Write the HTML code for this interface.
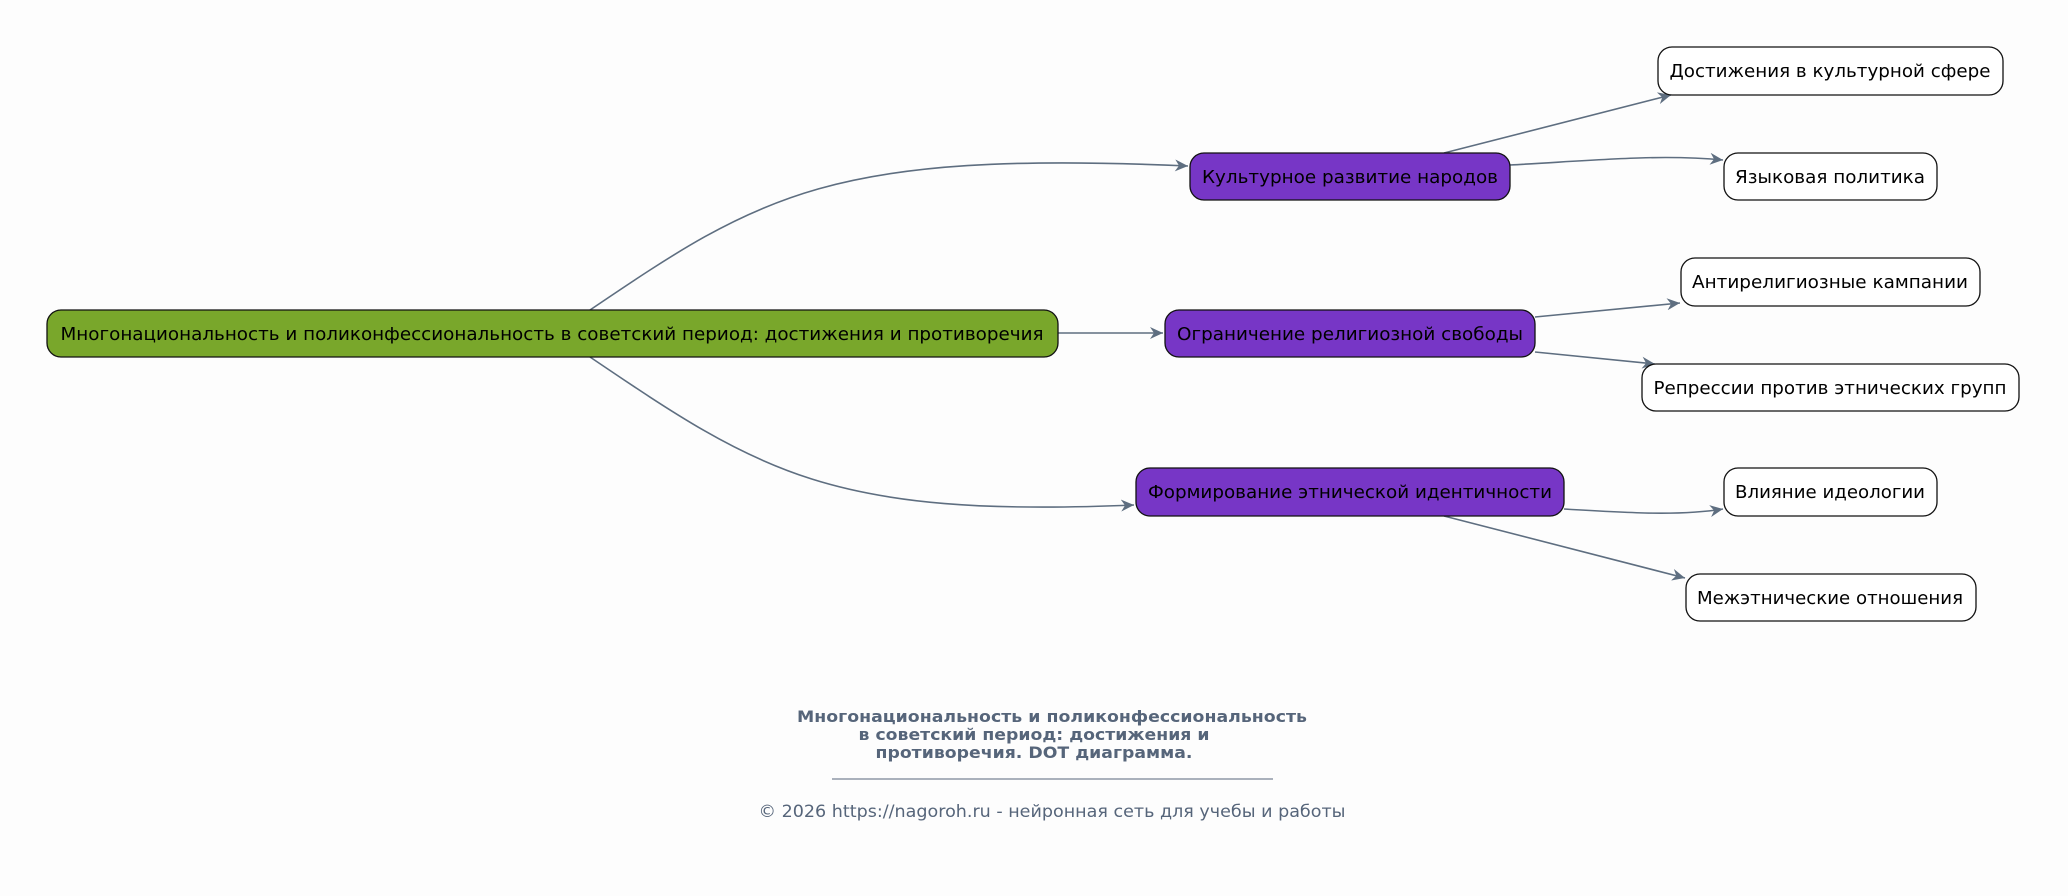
<!DOCTYPE html>
<html><head><meta charset="utf-8"><style>
html,body{margin:0;padding:0;background:#fdfdfd;}
svg{display:block;}
text{font-family:"DejaVu Sans","Liberation Sans",sans-serif;}
</style></head><body>
<svg width="2068" height="896" viewBox="0 0 2068 896" xmlns="http://www.w3.org/2000/svg">
<rect width="2068" height="896" fill="#fdfdfd"/>
<defs>
<marker id="v" viewBox="0 0 14 12" refX="13" refY="6" markerWidth="14" markerHeight="12" markerUnits="userSpaceOnUse" orient="auto">
<path d="M0,0 L13,6 L0,12 L4,6 Z" fill="#5e6e80"/>
</marker>
</defs>
<g fill="none" stroke="#5e6e80" stroke-width="1.6">
<path d="M590,310 C760,195 830,150 1188,166" marker-end="url(#v)"/>
<path d="M1058,333 L1163,333" marker-end="url(#v)"/>
<path d="M590,357 C760,472 830,518 1134,505" marker-end="url(#v)"/>
<path d="M1444,153 L1671,95" marker-end="url(#v)"/>
<path d="M1510,165 C1600,160 1660,154 1723,160" marker-end="url(#v)"/>
<path d="M1535,317 L1680,303" marker-end="url(#v)"/>
<path d="M1535,352 L1655,364" marker-end="url(#v)"/>
<path d="M1564,509 C1630,513 1680,516 1723,509" marker-end="url(#v)"/>
<path d="M1444,516 L1685,578" marker-end="url(#v)"/>
</g>
<g stroke="#111" stroke-width="1.3">
<rect x="47" y="310" width="1011" height="47" rx="14" fill="#79a72b"/>
<rect x="1190" y="153" width="320" height="47" rx="14" fill="#7736c6"/>
<rect x="1165" y="310" width="370" height="47" rx="14" fill="#7736c6"/>
<rect x="1136" y="468" width="428" height="48" rx="14" fill="#7736c6"/>
<rect x="1658" y="47" width="345" height="48" rx="14" fill="#fff"/>
<rect x="1724" y="153" width="213" height="47" rx="14" fill="#fff"/>
<rect x="1681" y="258" width="299" height="48" rx="14" fill="#fff"/>
<rect x="1642" y="364" width="377" height="47" rx="14" fill="#fff"/>
<rect x="1724" y="468" width="213" height="48" rx="14" fill="#fff"/>
<rect x="1686" y="574" width="290" height="47" rx="14" fill="#fff"/>
</g>
<g font-size="18" fill="#000" text-anchor="middle">
<text x="552" y="340" textLength="983" lengthAdjust="spacingAndGlyphs">Многонациональность и поликонфессиональность в советский период: достижения и противоречия</text>
<text x="1350" y="183" textLength="296" lengthAdjust="spacingAndGlyphs">Культурное развитие народов</text>
<text x="1350" y="340" textLength="346" lengthAdjust="spacingAndGlyphs">Ограничение религиозной свободы</text>
<text x="1350" y="498" textLength="404" lengthAdjust="spacingAndGlyphs">Формирование этнической идентичности</text>
<text x="1830" y="77" textLength="321" lengthAdjust="spacingAndGlyphs">Достижения в культурной сфере</text>
<text x="1830" y="183" textLength="190" lengthAdjust="spacingAndGlyphs">Языковая политика</text>
<text x="1830" y="288" textLength="276" lengthAdjust="spacingAndGlyphs">Антирелигиозные кампании</text>
<text x="1830" y="394" textLength="353" lengthAdjust="spacingAndGlyphs">Репрессии против этнических групп</text>
<text x="1830" y="498" textLength="190" lengthAdjust="spacingAndGlyphs">Влияние идеологии</text>
<text x="1830" y="604" textLength="266" lengthAdjust="spacingAndGlyphs">Межэтнические отношения</text>
</g>
<g fill="#56657a" text-anchor="middle">
<text x="1052" y="722" font-size="16" font-weight="bold" textLength="510" lengthAdjust="spacingAndGlyphs">Многонациональность и поликонфессиональность</text>
<text x="1034" y="740" font-size="16" font-weight="bold" textLength="351" lengthAdjust="spacingAndGlyphs">в советский период: достижения и</text>
<text x="1034" y="758" font-size="16" font-weight="bold" textLength="317" lengthAdjust="spacingAndGlyphs">противоречия. DOT диаграмма.</text>
<line x1="832" y1="779" x2="1273" y2="779" stroke="#56657a" stroke-width="1"/>
<text x="1052" y="817" font-size="17" textLength="587" lengthAdjust="spacingAndGlyphs">© 2026 https://nagoroh.ru - нейронная сеть для учебы и работы</text>
</g>
</svg>
</body></html>
